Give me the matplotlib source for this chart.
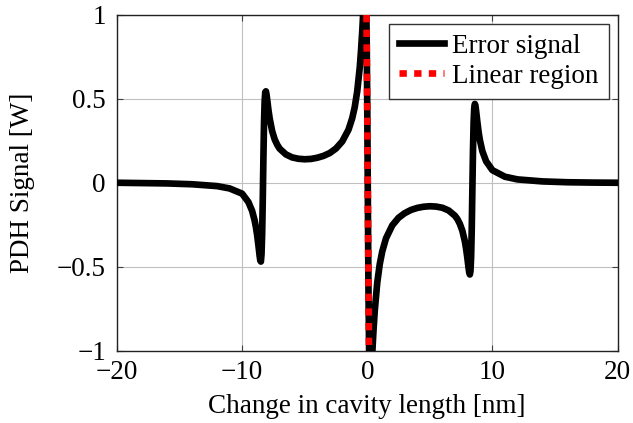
import matplotlib
matplotlib.use("Agg")
import matplotlib.pyplot as plt

# ---- data ----
err_x = [-20, -18, -16, -14, -12, -11, -10, -9.5, -9.2, -9.0, -8.9, -8.8, -8.7,
         -8.6, -8.55, -8.5, -8.45, -8.4, -8.35, -8.3, -8.25, -8.2, -8.15, -8.1,
         -8.05, -8.0, -7.9, -7.8, -7.6, -7.4, -7.2, -7.0, -6.5, -6.0, -5.5, -5.0,
         -4.5, -4.0, -3.5, -3.0, -2.5, -2.0, -1.5, -1.2, -1.0, -0.8, -0.6, -0.5,
         -0.4, -0.35, -0.3, -0.2, -0.15, -0.1, -0.05, 0.0, 0.05, 0.1, 0.15, 0.2,
         0.25, 0.3, 0.35, 0.4, 0.45, 0.5, 0.6, 0.8, 1.0, 1.2, 1.5, 2.0, 2.5, 3.0,
         3.5, 4.0, 4.5, 5.0, 5.5, 6.0, 6.5, 7.0, 7.2, 7.4, 7.6, 7.8, 7.9, 8.0,
         8.05, 8.1, 8.15, 8.2, 8.25, 8.3, 8.35, 8.4, 8.45, 8.5, 8.55, 8.6, 8.65,
         8.7, 8.8, 8.9, 9.0, 9.2, 9.5, 10, 11, 12, 14, 16, 18, 20]
err_y = [0.000, -0.002, -0.004, -0.009, -0.020, -0.034, -0.065, -0.115, -0.168,
         -0.225, -0.264, -0.312, -0.372, -0.437, -0.462, -0.470, -0.425, -0.305,
         -0.101, 0.145, 0.358, 0.487, 0.540, 0.545, 0.526, 0.497, 0.436, 0.384,
         0.308, 0.259, 0.227, 0.203, 0.169, 0.151, 0.143, 0.140, 0.142, 0.149,
         0.160, 0.177, 0.204, 0.246, 0.316, 0.385, 0.451, 0.546, 0.687, 0.785,
         0.904, 0.975, 1.049, 1.180, 1.198, 1.128, 0.898, 0.463, -0.120, -0.661,
         -1.013, -1.171, -1.199, -1.160, -1.093, -1.019, -0.946, -0.880, -0.763,
         -0.595, -0.485, -0.409, -0.331, -0.254, -0.209, -0.181, -0.162, -0.150,
         -0.143, -0.140, -0.142, -0.149, -0.165, -0.196, -0.216, -0.245, -0.286,
         -0.349, -0.394, -0.448, -0.479, -0.509, -0.535, -0.547, -0.526, -0.446,
         -0.281, -0.045, 0.190, 0.360, 0.445, 0.470, 0.458, 0.428, 0.362, 0.302,
         0.255, 0.188, 0.128, 0.075, 0.036, 0.020, 0.008, 0.003, 0.001, 0.000]

lin_x = [-0.06, 0.14]
lin_y = [1.0, -1.0]

xticks = [-20, -10, 0, 10, 20]
xticklabels = ["\u221220", "\u221210", "0", "10", "20"]
yticks = [-1, -0.5, 0, 0.5, 1]
yticklabels = ["\u22121", "\u22120.5", "0", "0.5", "1"]

series_labels = ["Error signal", "Linear region"]
xlabel = "Change in cavity length [nm]"
ylabel = "PDH Signal [W]"

# ---- plotting ----
plt.rcParams['font.family'] = ['Liberation Serif', 'DejaVu Serif']
FS = 19.5
plt.rcParams['font.size'] = FS

fig = plt.figure(figsize=(6.33, 4.23), dpi=100)
ax = fig.add_axes([117 / 633, 1 - 350.5 / 423, 500.5 / 633, 335.5 / 423])

ax.plot(err_x, err_y, color='black', linewidth=4.8, solid_joinstyle='round',
        label=series_labels[0], zorder=3)
ax.plot(lin_x, lin_y, color='red', linewidth=4.8, linestyle=(0, (1.1, 1.1)),
        dash_capstyle='butt', label=series_labels[1], zorder=4)

ax.set_xlim(-20, 20)
ax.set_ylim(-1, 1)
ax.set_xticks(xticks)
ax.set_xticklabels(xticklabels)
ax.set_yticks(yticks)
ax.set_yticklabels(yticklabels)
ax.grid(True, color='#c0c0c0', linewidth=0.8)
ax.set_axisbelow(True)
ax.tick_params(direction='in', length=4, width=0.8, top=True, right=True,
               labelsize=FS, colors='#404040', labelcolor='black')
ax.tick_params(axis='x', pad=7)
ax.tick_params(axis='y', pad=8)
for s in ax.spines.values():
    s.set_linewidth(1.0)
    s.set_color('#222222')

ax.set_xlabel(xlabel, fontsize=FS)
ax.set_ylabel(ylabel, fontsize=FS)
ax.xaxis.set_label_coords(0.5, -(394 - 350.5) / 335.5)
ax.yaxis.set_label_coords(-(117 - 35) / 500.5, 0.5)

leg = ax.legend(loc='upper right', fontsize=FS, frameon=True, fancybox=False,
                framealpha=1, edgecolor='#333333', handlelength=1.67,
                handletextpad=0.3, borderpad=0.38, labelspacing=0.18,
                borderaxespad=0.32)
leg.get_frame().set_linewidth(1.0)

fig.savefig("out.png", dpi=100)
